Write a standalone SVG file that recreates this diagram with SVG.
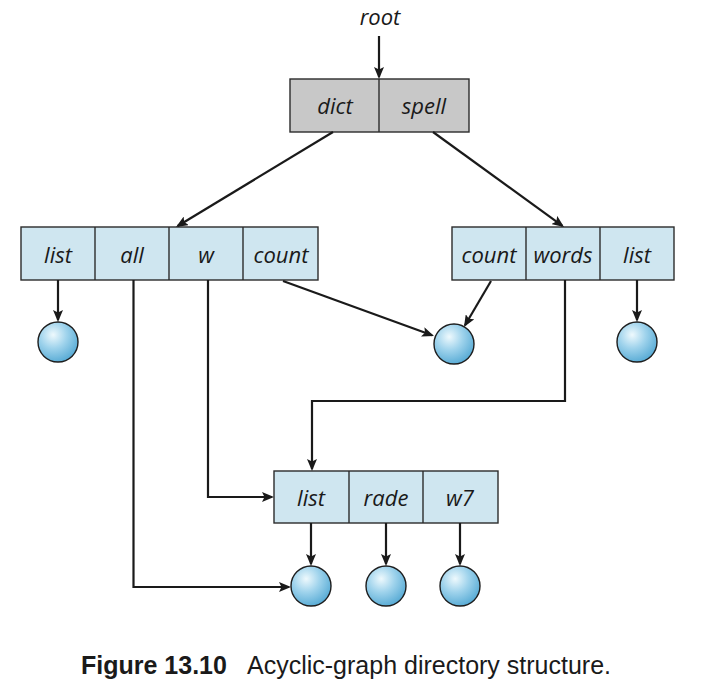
<svg xmlns="http://www.w3.org/2000/svg" width="704" height="696" viewBox="0 0 704 696">
  <style>
    .cell { fill: #cfe6f0; stroke: #2b2b2b; stroke-width: 1.4; }
    .cell-root { fill: #c8c8c8; stroke: #2b2b2b; stroke-width: 1.4; }
    .div { stroke: #2b2b2b; stroke-width: 1.4; }
    .lbl { font-family: "Open Sans", "Liberation Sans", sans-serif; font-style: italic; font-size: 22px; fill: #1a1a1a; text-anchor: middle; }
    .file { fill: url(#ball); stroke: #1e1e1e; stroke-width: 1.4; }
    .edge { fill: none; stroke: #1a1a1a; stroke-width: 2.2; marker-end: url(#arrow); }
    .cap { font-family: "Liberation Sans", Arial, sans-serif; font-size: 25px; fill: #1a1a1a; }
  </style>
  <defs>
    <radialGradient id="ball" cx="0.38" cy="0.32" r="0.75">
      <stop offset="0" stop-color="#eef9fd"/>
      <stop offset="0.45" stop-color="#9fd3ec"/>
      <stop offset="1" stop-color="#4fa6d2"/>
    </radialGradient>
    <marker id="arrow" viewBox="0 0 12 10" refX="10" refY="5" markerWidth="12" markerHeight="10" markerUnits="userSpaceOnUse" orient="auto">
      <path d="M0,0 L12,5 L0,10 L2.5,5 z" fill="#1a1a1a"/>
    </marker>
  </defs>

  <!-- root label -->
  <g id="root-label">
    <text class="lbl" x="380" y="25">root</text>
  </g>

  <!-- root directory -->
  <g id="dir-root">
    <rect class="cell-root" x="290" y="79" width="179" height="53"/>
    <line class="div" x1="379" y1="79" x2="379" y2="132"/>
    <text class="lbl" x="335" y="114">dict</text>
    <text class="lbl" x="424" y="114">spell</text>
  </g>

  <!-- dict directory -->
  <g id="dir-dict">
    <rect class="cell" x="21" y="227" width="297" height="53"/>
    <line class="div" x1="95" y1="227" x2="95" y2="280"/>
    <line class="div" x1="169" y1="227" x2="169" y2="280"/>
    <line class="div" x1="243" y1="227" x2="243" y2="280"/>
    <text class="lbl" x="58" y="263">list</text>
    <text class="lbl" x="132" y="263">all</text>
    <text class="lbl" x="206" y="263">w</text>
    <text class="lbl" x="281" y="263">count</text>
  </g>

  <!-- spell directory -->
  <g id="dir-spell">
    <rect class="cell" x="452" y="227" width="222" height="53"/>
    <line class="div" x1="526" y1="227" x2="526" y2="280"/>
    <line class="div" x1="600" y1="227" x2="600" y2="280"/>
    <text class="lbl" x="489" y="263">count</text>
    <text class="lbl" x="563" y="263">words</text>
    <text class="lbl" x="637" y="263">list</text>
  </g>

  <!-- shared directory -->
  <g id="dir-shared">
    <rect class="cell" x="274" y="471" width="224" height="52"/>
    <line class="div" x1="349" y1="471" x2="349" y2="523"/>
    <line class="div" x1="423" y1="471" x2="423" y2="523"/>
    <text class="lbl" x="311" y="506">list</text>
    <text class="lbl" x="386" y="506">rade</text>
    <text class="lbl" x="460" y="506">w7</text>
  </g>

  <!-- files -->
  <g id="file-dict-list"><circle class="file" cx="58" cy="342" r="20"/></g>
  <g id="file-count"><circle class="file" cx="454" cy="344" r="20"/></g>
  <g id="file-spell-list"><circle class="file" cx="637" cy="342" r="20"/></g>
  <g id="file-list"><circle class="file" cx="311" cy="586" r="20"/></g>
  <g id="file-rade"><circle class="file" cx="386" cy="586" r="20"/></g>
  <g id="file-w7"><circle class="file" cx="460" cy="586" r="20"/></g>

  <!-- connectors -->
  <g id="connectors">
    <path class="edge" d="M379,36 L379,77"/>
    <path class="edge" d="M333,132 L177.7,226"/>
    <path class="edge" d="M433,132 L562.4,225.8"/>
    <path class="edge" d="M58,280 L58,320"/>
    <path class="edge" d="M637,280 L637,320"/>
    <path class="edge" d="M283,281 L432.1,335.3"/>
    <path class="edge" d="M491,281 L465,325.3"/>
    <path class="edge" d="M133.5,280 L133.5,587 L289,587"/>
    <path class="edge" d="M208,280 L208,497 L272,497"/>
    <path class="edge" d="M565,280 L565,401 L312,401 L312,469"/>
    <path class="edge" d="M311,523 L311,564"/>
    <path class="edge" d="M386,523 L386,564"/>
    <path class="edge" d="M460,523 L460,564"/>
  </g>

  <!-- caption -->
  <g id="caption">
    <text class="cap" x="81" y="674" font-weight="bold" font-size="24.5">Figure 13.10</text>
    <text class="cap" x="247" y="674">Acyclic-graph directory structure.</text>
  </g>
</svg>
